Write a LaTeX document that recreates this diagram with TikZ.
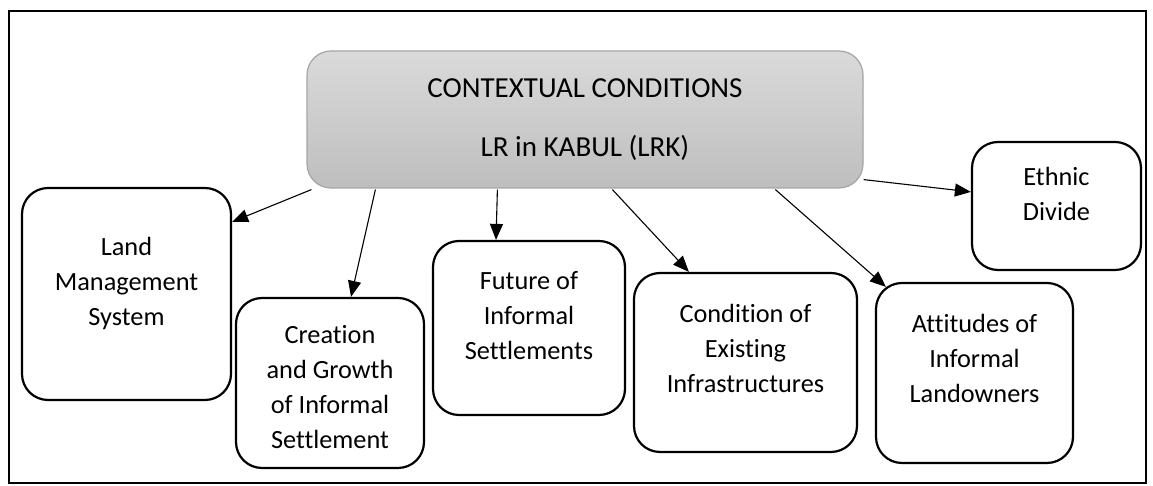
\documentclass[tikz,border=0pt]{standalone}
\usepackage{fontspec}
\setmainfont{Carlito}[Ligatures=CommonOff]
\usetikzlibrary{positioning,arrows.meta}
\definecolor{condtop}{RGB}{218,218,218}
\definecolor{condbottom}{RGB}{190,190,190}
\definecolor{condedge}{RGB}{165,165,165}

\begin{document}
\begin{tikzpicture}[x=0.5pt,y=0.5pt,
		cond/.style={draw,line width=1.1pt,rounded corners=13pt,inner sep=0pt},
		txt/.style={align=center,inner sep=0pt,font=\fontsize{13.15}{17.5}\selectfont},
		arr/.style={-{Triangle[length=8pt,width=6.5pt]},line width=0.55pt}]
			\useasboundingbox (0,0) rectangle (1153,486);
			\draw[line width=1.3pt] (9,3) rectangle (1146,475);
			\node[draw=condedge,line width=0.6pt,top color=condtop,bottom color=condbottom,rounded corners=12pt,minimum width=278pt,minimum height=68.5pt,align=center,font=\fontsize{14.5}{17.7}\selectfont] (lrk) at (585,366.5) {CONTEXTUAL CONDITIONS\\[11.8pt]LR in KABUL (LRK)};
			\node[cond,minimum width=104.5pt,minimum height=106pt] (lms) at (126.5,192) {};
			\node[cond,minimum width=94pt,minimum height=85pt] (cgis) at (330,103) {};
			\node[cond,minimum width=96pt,minimum height=87pt] (fis) at (529,158) {};
			\node[cond,minimum width=111.5pt,minimum height=89.5pt] (cei) at (745.5,123.5) {};
			\node[cond,minimum width=98.5pt,minimum height=90pt] (ail) at (974.5,113) {};
			\node[cond,minimum width=84.5pt,minimum height=64pt] (ed) at (1056.5,280) {};
			\node[txt,below=25pt of lms.north] (lmsText) {Land\\Management\\System};
			\node[txt,below=14pt of cgis.north] (cgisText) {Creation\\and Growth\\of Informal\\Settlement};
			\node[txt,below=15.5pt of fis.north] (fisText) {Future of\\Informal\\Settlements};
			\node[txt,below=16pt of cei.north] (ceiText) {Condition of\\Existing\\Infrastructures};
			\node[txt,below=16pt of ail.north] (ailText) {Attitudes of\\Informal\\Landowners};
			\node[txt,below=13pt of ed.north] (edText) {Ethnic\\Divide};
			\draw[arr] ([shift={(5,-1)}]lrk.south west) -- ([shift={(0,-35)}]lms.north east);
			\draw[arr] ([shift={(69,-1)}]lrk.south west) -- ([shift={(21,0)}]cgis.north);
			\draw[arr] ([shift={(191,-1)}]lrk.south west) -- ([shift={(-33,0)}]fis.north);
			\draw[arr] ([shift={(306,-1)}]lrk.south west) -- ([shift={(56,0)}]cei.north west);
			\draw[arr] ([shift={(469,-1)}]lrk.south west) -- ([shift={(11,-5)}]ail.north west);
			\draw[arr] ([shift={(0,9)}]lrk.south east) -- ([shift={(0,-51)}]ed.north west);
		\end{tikzpicture}
\end{document}
